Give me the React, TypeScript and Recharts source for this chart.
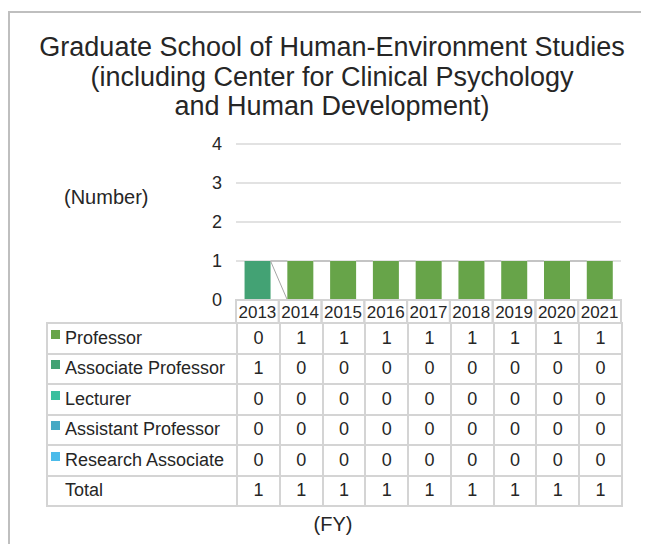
import { BarChart, Bar, XAxis, YAxis, CartesianGrid } from 'recharts';

const YEARS = ['2013', '2014', '2015', '2016', '2017', '2018', '2019', '2020', '2021'];
const PROFESSOR = [0, 1, 1, 1, 1, 1, 1, 1, 1];
const ASSOCIATE_PROFESSOR = [1, 0, 0, 0, 0, 0, 0, 0, 0];
const LECTURER = [0, 0, 0, 0, 0, 0, 0, 0, 0];
const ASSISTANT_PROFESSOR = [0, 0, 0, 0, 0, 0, 0, 0, 0];
const RESEARCH_ASSOCIATE = [0, 0, 0, 0, 0, 0, 0, 0, 0];
const Y_TICKS = [0, 1, 2, 3, 4];

// stacking order, bottom to top
const SERIES = [
  { key: 'researchAssociate', name: 'Research Associate', color: '#4bbbea', values: RESEARCH_ASSOCIATE },
  { key: 'assistantProfessor', name: 'Assistant Professor', color: '#47a9c4', values: ASSISTANT_PROFESSOR },
  { key: 'lecturer', name: 'Lecturer', color: '#3cbf9e', values: LECTURER },
  { key: 'associateProfessor', name: 'Associate Professor', color: '#43a274', values: ASSOCIATE_PROFESSOR },
  { key: 'professor', name: 'Professor', color: '#67a449', values: PROFESSOR },
];

const data = YEARS.map((year, i) => {
  const row: Record<string, number | string> = { year };
  SERIES.forEach((s) => (row[s.key] = s.values[i]));
  return row;
});
const totals = YEARS.map((_, i) => SERIES.reduce((sum, s) => sum + s.values[i], 0));

const FONT = '"Liberation Sans", Arial, sans-serif';
const TEXT = '#262626';
const LINE = '#d4d4d4';

const CHART_W = 641;
const CHART_H = 330;
const MARGIN = { top: 136, right: 28, bottom: 15, left: 188 };
const PLOT_W = CHART_W - MARGIN.left - 40 - MARGIN.right;
const PLOT_H = CHART_H - MARGIN.top - MARGIN.bottom - 23;
const STEP = PLOT_W / YEARS.length;
const PX_PER_UNIT = PLOT_H / 4;

// bar with an Excel-style series line to the next category
function seriesShape(seriesIndex: number) {
  return (props: any) => {
    const { x, y, width, height, fill, index } = props;
    const s = SERIES[seriesIndex];
    const below = (i: number) => SERIES.slice(0, seriesIndex).reduce((a, t) => a + t.values[i], 0);
    const base = y + height + below(index) * PX_PER_UNIT;
    const next = index + 1 < YEARS.length;
    const nextTop = next ? base - (below(index + 1) + s.values[index + 1]) * PX_PER_UNIT : 0;
    return (
      <g>
        {height > 0 && <rect x={x} y={y} width={width} height={height} fill={fill} />}
        {next && (
          <line x1={x + width} y1={y} x2={x + STEP} y2={nextTop} stroke="#a6a6a6" strokeWidth={1} />
        )}
      </g>
    );
  };
}

function YearTick({ x, y, payload }: any) {
  return (
    <g>
      <rect x={x - STEP / 2} y={y} width={STEP} height={23} fill="none" stroke={LINE} strokeWidth={2} />
      <text x={x} y={y + 18} textAnchor="middle" fontSize={17} fill={TEXT} fontFamily={FONT}>
        {payload.value}
      </text>
    </g>
  );
}

export default function App() {
  const tableRows = [...SERIES].reverse();
  const cell: React.CSSProperties = {
    border: `2px solid ${LINE}`,
    textAlign: 'center',
    padding: 0,
    height: 28.5,
  };
  return (
    <div style={{ position: 'relative', width: 641, height: 536, overflow: 'hidden', fontFamily: FONT, color: TEXT }}>
      <div
        style={{
          position: 'absolute',
          left: 0,
          top: 3,
          width: 700,
          height: 600,
          border: '2px solid #bfbfbf',
        }}
      />
      <div
        style={{
          position: 'absolute',
          left: 0,
          top: 25,
          width: 648,
          textAlign: 'center',
          fontSize: 27,
          lineHeight: '29.5px',
        }}
      >
        Graduate School of Human-Environment Studies
        <br />
        (including Center for Clinical Psychology
        <br />
        and Human Development)
      </div>
      <div style={{ position: 'absolute', left: 56, top: 177, fontSize: 20, lineHeight: '24px' }}>(Number)</div>

      <div style={{ position: 'absolute', left: 0, top: 0 }}>
        <BarChart width={CHART_W} height={CHART_H} data={data} margin={MARGIN} barCategoryGap="20%">
          <CartesianGrid vertical={false} stroke="#d9d9d9" strokeWidth={1.5} />
          <XAxis
            dataKey="year"
            axisLine={false}
            tickLine={false}
            tickSize={0}
            tickMargin={0}
            height={23}
            interval={0}
            tick={<YearTick />}
          />
          <YAxis
            width={40}
            domain={[0, 4]}
            ticks={Y_TICKS}
            axisLine={false}
            tickLine={false}
            tickSize={0}
            tickMargin={14}
            tick={{ fontSize: 18, fill: TEXT, fontFamily: FONT }}
          />
          {SERIES.map((s, i) => (
            <Bar
              key={s.key}
              dataKey={s.key}
              name={s.name}
              stackId="staff"
              fill={s.color}
              shape={seriesShape(i)}
              isAnimationActive={false}
            />
          ))}
        </BarChart>
      </div>

      <table
        style={{
          position: 'absolute',
          left: 38,
          top: 314,
          width: 577,
          borderCollapse: 'collapse',
          tableLayout: 'fixed',
          fontSize: 18,
        }}
      >
        <colgroup>
          <col style={{ width: 190 }} />
          {YEARS.map((y) => (
            <col key={y} />
          ))}
        </colgroup>
        <tbody>
          {tableRows.map((s) => (
            <tr key={s.key}>
              <td style={{ ...cell, textAlign: 'left', paddingLeft: 3, whiteSpace: 'nowrap' }}>
                <span
                  style={{
                    display: 'inline-block',
                    width: 9,
                    height: 9,
                    background: s.color,
                    marginRight: 5,
                    position: 'relative',
                    top: -5,
                  }}
                />
                {s.name}
              </td>
              {s.values.map((v, i) => (
                <td key={i} style={cell}>
                  {v}
                </td>
              ))}
            </tr>
          ))}
          <tr>
            <td style={{ ...cell, textAlign: 'left', paddingLeft: 17 }}>Total</td>
            {totals.map((v, i) => (
              <td key={i} style={cell}>
                {v}
              </td>
            ))}
          </tr>
        </tbody>
      </table>

      <div style={{ position: 'absolute', left: 0, width: 650, top: 504, textAlign: 'center', fontSize: 20, lineHeight: '24px' }}>
        (FY)
      </div>
    </div>
  );
}
